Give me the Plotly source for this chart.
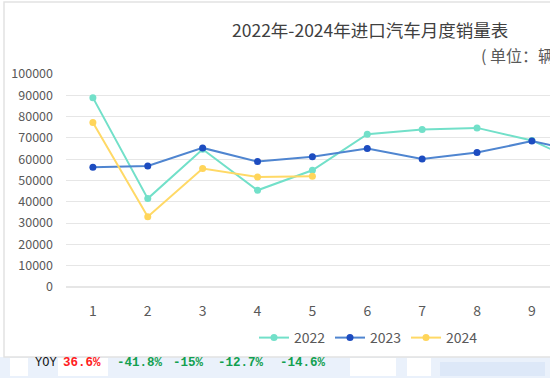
import plotly.graph_objects as go

months = [1, 2, 3, 4, 5, 6, 7, 8, 9, 10]
sales_2022 = [88900, 41500, 64700, 45400, 54800, 71700, 74000, 74700, 68800, 57000]
sales_2023 = [56200, 56800, 65300, 58900, 61200, 65000, 60100, 63100, 68500, 63000]
months_2024 = [1, 2, 3, 4, 5]
sales_2024 = [77200, 33000, 55600, 51600, 52000]
yoy_labels = ["36.6%", "-41.8%", "-15%", "-12.7%", "-14.6%"]
yoy_colors = ["#ff2020", "#12a050", "#12a050", "#12a050", "#12a050"]
yoy_x = [61, 115, 171, 216, 278]

W, H = 550, 378
L, R, T, B = 66, 0, 74, 91
PW, PH = W - L - R, H - T - B

fig = go.Figure()
fig.add_trace(go.Scatter(x=months, y=sales_2022, name="2022", mode="lines+markers",
                         line=dict(color="#72e0c9", width=2), marker=dict(color="#72e0c9", size=7)))
fig.add_trace(go.Scatter(x=months, y=sales_2023, name="2023", mode="lines+markers",
                         line=dict(color="#4f85d0", width=2), marker=dict(color="#1d4cc0", size=7)))
fig.add_trace(go.Scatter(x=months_2024, y=sales_2024, name="2024", mode="lines+markers",
                         line=dict(color="#ffd966", width=2), marker=dict(color="#ffd55a", size=7)))

def px(x):
    return (x - L) / PW

def py(y):
    return (H - B - y) / PH

shapes = []
# bottom band (table background below chart)
shapes.append(dict(type="rect", xref="paper", yref="paper", x0=px(-5), x1=px(560), y0=py(380), y1=py(357),
                   fillcolor="#eaf1fb", line=dict(width=0), layer="below"))
for (a, b) in [(10, 28), (58, 108), (350, 396), (407, 431)]:
    shapes.append(dict(type="rect", xref="paper", yref="paper", x0=px(a), x1=px(b), y0=py(376), y1=py(358),
                       fillcolor="#ffffff", line=dict(width=0), layer="below"))
for (a, b) in [(440, 545)]:
    shapes.append(dict(type="rect", xref="paper", yref="paper", x0=px(a), x1=px(b), y0=py(376), y1=py(362),
                       fillcolor="#dde8f8", line=dict(width=0), layer="below"))
# chart border
shapes.append(dict(type="rect", xref="paper", yref="paper", x0=px(4), x1=px(600), y0=py(357), y1=py(2),
                   fillcolor="rgba(0,0,0,0)", line=dict(color="#e2e2e2", width=1.5), layer="below"))

annotations = [
    dict(text="2022年-2024年进口汽车月度销量表", xref="paper", yref="paper", x=px(370), y=py(30),
         xanchor="center", yanchor="middle", showarrow=False,
         font=dict(family="Noto Sans CJK SC", size=17.5, color="#404040")),
    dict(text="( 单位：辆 )", xref="paper", yref="paper", x=px(479), y=py(55),
         xanchor="left", yanchor="middle", showarrow=False,
         font=dict(family="Noto Sans CJK SC", size=16, color="#595959")),
    dict(text="YOY", xref="paper", yref="paper", x=px(33), y=py(363),
         xanchor="left", yanchor="middle", showarrow=False,
         font=dict(family="Liberation Mono", size=12, color="#111111")),
]
for t, c, x in zip(yoy_labels, yoy_colors, yoy_x):
    annotations.append(dict(text="<b>" + t + "</b>", xref="paper", yref="paper", x=px(x), y=py(363),
                            xanchor="left", yanchor="middle", showarrow=False,
                            font=dict(family="Liberation Mono", size=12.5, color=c)))

fig.update_layout(
    width=W, height=H,
    margin=dict(l=L, r=R, t=T, b=B, autoexpand=False),
    paper_bgcolor="white", plot_bgcolor="white",
    font=dict(family="Noto Sans CJK SC", color="#595959"),
    showlegend=True,
    legend=dict(orientation="h", x=px(368), xanchor="center", y=py(338), yanchor="middle",
                font=dict(size=14, color="#595959"), itemwidth=30, tracegroupgap=0,
                entrywidth=31, entrywidthmode="pixels"),
    xaxis=dict(range=[0.51, 9.33], tickvals=months, ticktext=[str(m) for m in months],
               showgrid=False, zeroline=False, showline=False, ticks="", automargin=False,
               tickfont=dict(size=14, color="#595959"), ticklabelstandoff=14),
    yaxis=dict(range=[0, 100000], dtick=10000, showgrid=True, gridcolor="#e6e6e6", gridwidth=1,
               zeroline=True, zerolinecolor="#e6e6e6", showline=False, ticks="", automargin=False,
               tickfont=dict(size=12.5, color="#595959"), tickformat="d", ticklabelstandoff=12),
    shapes=shapes,
    annotations=annotations,
)

fig.write_html("out.html", config={"displayModeBar": False},
               post_script="document.body.style.margin='0';")
